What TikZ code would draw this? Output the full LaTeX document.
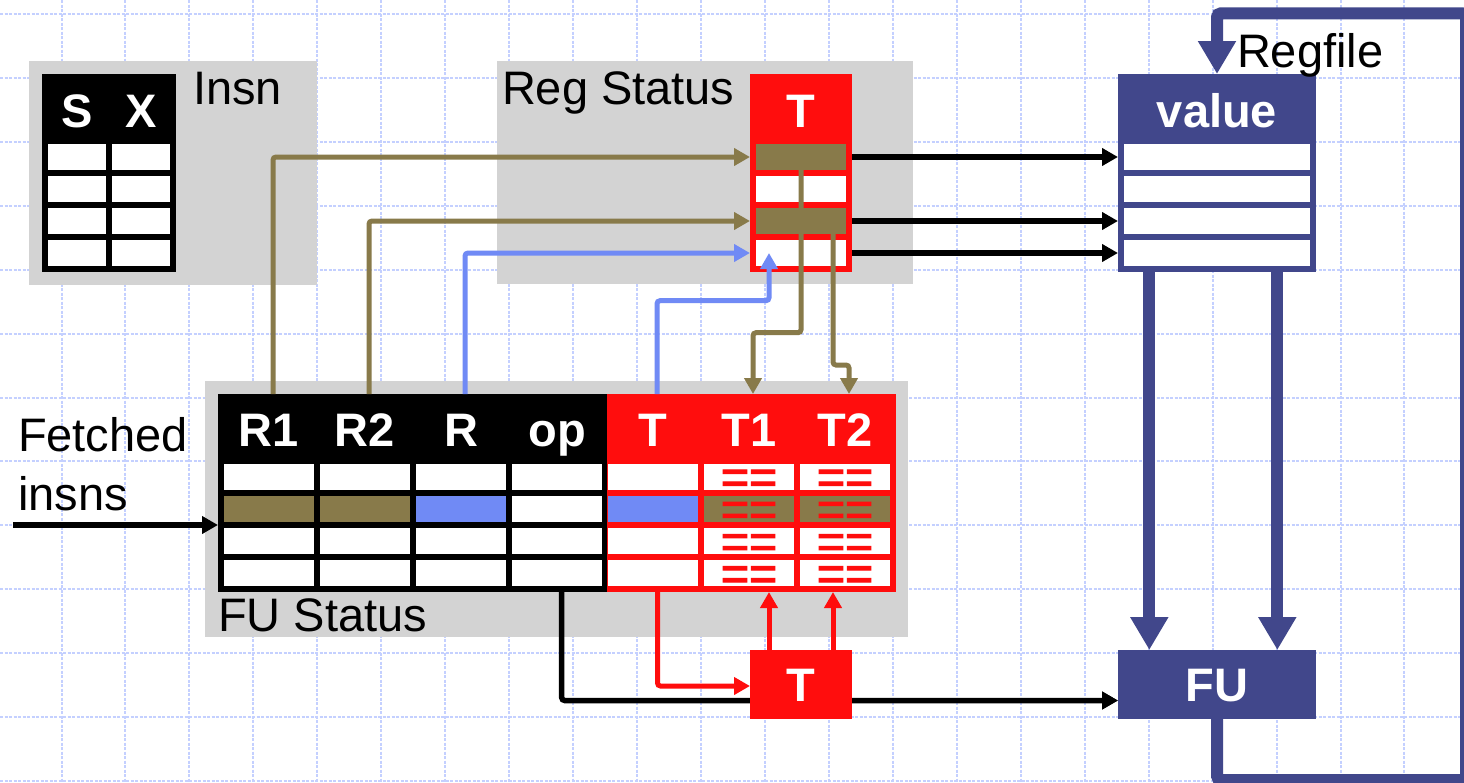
\documentclass[tikz,border=0pt]{standalone}
\usepackage{fontspec}
\setmainfont{Liberation Sans}
\newfontfamily\eqfont[FakeBold=2.5]{Liberation Sans}
\usetikzlibrary{arrows.meta,calc}
\definecolor{gbox}{RGB}{211,211,211}
\definecolor{oliv}{RGB}{136,122,74}
\definecolor{bluel}{RGB}{112,138,245}
\definecolor{redc}{RGB}{255,13,13}
\definecolor{navy}{RGB}{65,71,139}
\definecolor{gridc}{RGB}{196,208,255}
\begin{document}
\begin{tikzpicture}[x=1pt,y=-1pt,
  box/.style={inner sep=0pt,outer sep=0pt,anchor=north west,draw=none},
  hdr/.style={inner sep=0pt,outer sep=0pt,anchor=base,text=white,font=\fontsize{47}{56}\selectfont\bfseries},
  lbl/.style={inner sep=0pt,outer sep=0pt,anchor=base west,font=\fontsize{47}{56}\selectfont},
  eqs/.style={inner sep=0pt,outer sep=0pt,anchor=base,text=redc,font=\fontsize{48}{56}\eqfont},
  gridl/.style={gridc,line width=2pt,dash pattern=on 3pt off 1.5pt},
  conn/.style={line width=5pt,rounded corners=3pt,-{Triangle[width=17pt,length=16pt]}},
  oconn/.style={conn,oliv},
  bconn/.style={conn,bluel},
  rconn/.style={conn,redc},
  kconn/.style={conn,black,line width=5.5pt},
  nconn/.style={navy,line width=12pt,rounded corners=4pt,-{Triangle[width=36pt,length=33pt]}}
]
\clip (0,0) rectangle (1464,782);
\fill[white] (0,0) rectangle (1464,782);
% grid
\foreach \i in {0,...,21} \draw[gridl] ({61.5+63.95*\i},0) -- ({61.5+63.95*\i},782);
\foreach \j in {0,...,12} \draw[gridl] (0,{13.8+63.95*\j}) -- (1464,{13.8+63.95*\j});

% gray panels
\node[box,fill=gbox,minimum width=288,minimum height=224] (gI) at (29,61) {};
\node[box,fill=gbox,minimum width=416,minimum height=223] (gR) at (497,61) {};
\node[box,fill=gbox,minimum width=703,minimum height=256] (gF) at (205,381) {};

% Insn table
\node[box,fill=black,minimum width=134,minimum height=198] (it) at (42,74) {};
\foreach \r in {1,...,4} {
  \node[box,fill=white,minimum width=58,minimum height=26] (ia\r) at (48,{144+32*(\r-1)}) {};
  \node[box,fill=white,minimum width=58,minimum height=26] (ib\r) at (112,{144+32*(\r-1)}) {};
}
\node[hdr] (hS) at (77,127) {S};
\node[hdr] (hX) at (141,127) {X};
\node[lbl] (tInsn) at (193,104) {Insn};

% Reg Status
\node[box,fill=redc,minimum width=102,minimum height=198] (rst) at (750,74) {};
\foreach \r/\c in {1/oliv,2/white,3/oliv,4/white}
  \node[box,fill=\c,minimum width=90,minimum height=26] (rs\r) at (756,{144+32*(\r-1)}) {};
\node[hdr] (hRT) at (801,127) {T};
\node[lbl] (tReg) at (502,104) {Reg Status};

% Regfile
\node[box,fill=navy,minimum width=198,minimum height=198] (rft) at (1118,74) {};
\foreach \r in {1,...,4}
  \node[box,fill=white,minimum width=186,minimum height=26] (rf\r) at (1124,{144+32*(\r-1)}) {};
\node[hdr] (hval) at (1217,127) {value};
\node[lbl] (tRF) at (1237,67) {Regfile};

% FU Status
\node[box,fill=black,minimum width=389,minimum height=198] (futb) at (218,394) {};
\node[box,fill=redc,minimum width=289,minimum height=198] (futr) at (607,394) {};
\foreach \c/\fc in {1/oliv,2/oliv,3/bluel,4/white,5/bluel,6/oliv,7/oliv} {
  \foreach \r in {1,...,4} {
    \ifnum\r=2 \def\cc{\fc}\else\def\cc{white}\fi
    \node[box,fill=\cc,minimum width=90,minimum height=26] (fc\c\r) at ({224+96*(\c-1)},{463.5+32.2*(\r-1)}) {};
  }
}
\foreach \c in {6,7} \foreach \r in {1,...,4}
  \node[eqs] (eq\c\r) at ({269+96*(\c-1)},{463.5+32.2*(\r-1)+30}) {==};
\foreach \n/\t [count=\c] in {hR1/R1,hR2/R2,hR/R,hop/op,hT/T,hT1/T1,hT2/T2}
  \node[hdr] (\n) at ({269+96*(\c-1)},446.5) {\t};
\node[lbl] (tFU) at (218,631.7) {FU Status};
\node[lbl] (tF1) at (18,451.7) {Fetched};
\node[lbl] (tF2) at (18,510) {insns};

% coordinates
\coordinate (sR1) at ($(futb.north -| hR1)+(4,0)$);
\coordinate (sR2) at ($(futb.north -| hR2)+(4,0)$);
\coordinate (sR)  at ($(futb.north -| hR)+(4,0)$);
\coordinate (sT)  at ($(futr.north -| hT)+(4,0)$);
\coordinate (eT)  at ($(rs4.center)+(-32,0)$);
\coordinate (eT1) at ($(futr.north -| hT1)+(4,0)$);
\coordinate (eT2) at ($(futr.north -| hT2)+(4,0)$);
\coordinate (s3)  at ($(rs3.south)+(32,0)$);
\coordinate (fin) at (13,525);

% connectors to Reg Status
\draw[oconn] (sR1) |- (rs1.west -| rst.west);
\draw[oconn] (sR2) |- (rs3.west -| rst.west);
\draw[bconn] (sR) |- (rs4.west -| rst.west);
\draw[bconn] (sT) -- ++(0,-93.3) -| (eT);
\draw[oconn] (rs1.south) -- ++(0,162.7) -| (eT1);
\draw[oconn] (s3) -- ++(0,131) -| (eT2);
\foreach \r in {1,3,4} \draw[kconn] (rs\r.east -| rst.east) -- (rs\r.east -| rft.west);
\draw[kconn] (fin) -- (fin -| futb.west);

% FU
\node[box,fill=navy,minimum width=198,minimum height=69,text=white,font=\fontsize{47}{56}\selectfont\bfseries,text height=34pt,text depth=0pt,align=center] (fu) at (1118,650) {FU};
\coordinate (sop) at ($(futb.south -| hop)+(4.7,0)$);
\draw[kconn] (sop) |- ($(fu.west)+(0,16)$);

% T box
\node[box,fill=redc,minimum width=102,minimum height=69,text=white,font=\fontsize{47}{56}\selectfont\bfseries,text height=34pt,text depth=0pt,align=center] (tb) at (750,650) {T};
\coordinate (sTb) at ($(futr.south -| hT)+(4.5,0)$);
\draw[rconn] (sTb) |- ($(tb.west)+(0,1.5)$);
\coordinate (u1) at ($(tb.north)+(-32,0)$);
\coordinate (u2) at ($(tb.north)+(32,0)$);
\draw[rconn] (u1) -- (u1 |- futr.south);
\draw[rconn] (u2) -- (u2 |- futr.south);
\draw[kconn] (tb.east |- fu.west) ++(0,16) -- ($(fu.west)+(0,16)$);

% Regfile <-> FU
\coordinate (n1) at ($(rft.south)+(-67.7,0)$);
\coordinate (n2) at ($(rft.south)+(60.3,0)$);
\draw[nconn] (n1) -- (n1 |- fu.north);
\draw[nconn] (n2) -- (n2 |- fu.north);
\coordinate (lp) at (1466,13.3);
\draw[nconn] (fu.south) -- ++(0,61) -| (lp) -| (rft.north);
\end{tikzpicture}
\end{document}
